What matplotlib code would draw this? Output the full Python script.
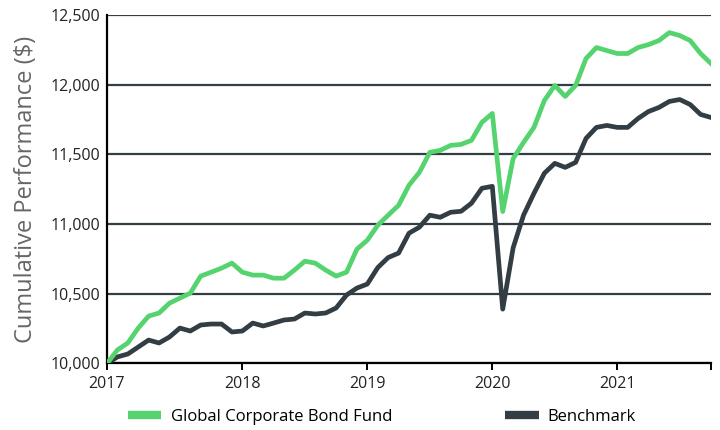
import numpy as np
import matplotlib.pyplot as plt
from matplotlib.lines import Line2D
from matplotlib.ticker import FuncFormatter

# monthly cumulative values of $10,000
fund = [10000, 10097, 10147, 10254, 10340, 10362, 10433, 10469, 10505, 10627,
        10655, 10684, 10720, 10655, 10634, 10634, 10612, 10612, 10670, 10734,
        10720, 10670, 10627, 10655, 10820, 10885, 10992, 11064, 11135, 11279,
        11372, 11515, 11529, 11565, 11572, 11601, 11730, 11794, 11090, 11470,
        11586, 11694, 11887, 11995, 11916, 11995, 12188, 12267, 12245, 12224,
        12224, 12267, 12288, 12317, 12374, 12353, 12317, 12224, 12152]
bench = [10000, 10047, 10068, 10118, 10168, 10147, 10190, 10254, 10233, 10276,
         10283, 10283, 10226, 10233, 10290, 10269, 10290, 10312, 10319, 10362,
         10355, 10362, 10398, 10491, 10541, 10570, 10688, 10760, 10792, 10935,
         10978, 11064, 11049, 11085, 11092, 11150, 11257, 11271, 10390, 10830,
         11064, 11221, 11365, 11436, 11407, 11443, 11615, 11694, 11708, 11694,
         11694, 11758, 11808, 11837, 11880, 11894, 11858, 11787, 11765]
year_pos = [0, 13, 25, 37, 49, 58]
year_labels = ['2017', '2018', '2019', '2020', '2021', '']

green = '#55d36e'
dark = '#333d44'

plt.rcParams['font.family'] = ['Open Sans', 'DejaVu Sans']

fig = plt.figure(figsize=(7.2, 4.3), dpi=100)
ax = fig.add_axes([0.1486, 0.1547, 0.8389, 0.8103])

x = np.arange(len(fund))
ax.plot(x, bench, color=dark, linewidth=3.4, zorder=3)
ax.plot(x, fund, color=green, linewidth=3.4, zorder=4)

ax.set_xlim(0, 58)
ax.set_ylim(10000, 12500)
ax.set_yticks(np.arange(10000, 12501, 500))
ax.yaxis.set_major_formatter(FuncFormatter(lambda v, p: f'{v:,.0f}'))
ax.set_xticks(year_pos)
ax.set_xticklabels(year_labels)

ax.grid(axis='y', color=dark, linewidth=1.6)
ax.set_axisbelow(True)
for s in ['top', 'right']:
    ax.spines[s].set_visible(False)
ax.spines['left'].set_linewidth(1.6)
ax.spines['bottom'].set_linewidth(1.6)
ax.spines['left'].set_color('black')
ax.spines['bottom'].set_color('black')

ax.tick_params(axis='y', length=0, pad=5, labelsize=11.5, labelcolor='#222222')
ax.tick_params(axis='x', length=5, width=1.4, pad=4, labelsize=11.5, labelcolor='#222222')

ax.set_ylabel('Cumulative Performance ($)', fontsize=17, color='#666666', labelpad=9)

handles = [Line2D([0], [0], color=green, linewidth=6, solid_capstyle='butt'),
           Line2D([0], [0], color=dark, linewidth=6, solid_capstyle='butt')]
fig.legend(handles, ['Global Corporate Bond Fund', 'Benchmark'],
           loc='center left', bbox_to_anchor=(0.157, 0.03), ncol=2,
           frameon=False, fontsize=12, handlelength=2.0, handletextpad=0.55,
           columnspacing=6.8)

fig.savefig('out.png', dpi=100)
